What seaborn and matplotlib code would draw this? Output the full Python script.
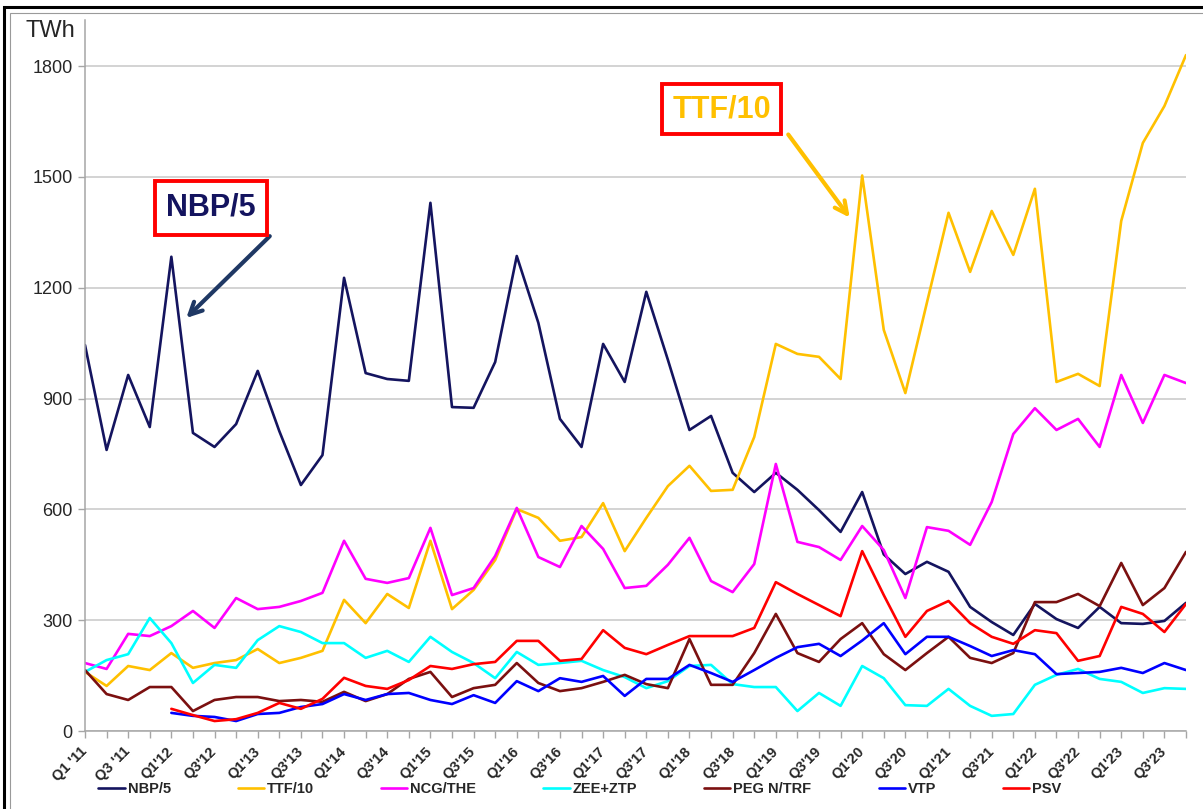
import numpy as np
import pandas as pd
import seaborn as sns
import matplotlib.pyplot as plt
from matplotlib.patches import Rectangle

# quarterly volumes, Q1'11 .. Q4'23 (52 quarters), TWh (scaled series as labelled)
nbp = [1045, 761, 964, 823, 1284, 807, 769, 831, 975, 812, 666, 747,
       1227, 969, 953, 948, 1430, 877, 875, 999, 1286, 1105, 845, 769,
       1048, 945, 1189, 1005, 815, 853, 699, 647, 699, 653, 598, 539,
       647, 478, 425, 458, 431, 336, 295, 260, 344, 303, 279, 336,
       292, 290, 298, 347]
ttf = [160, 122, 176, 165, 211, 171, 184, 192, 222, 184, 198, 217,
       355, 292, 371, 333, 515, 330, 382, 463, 601, 577, 515, 525,
       617, 487, 577, 663, 718, 650, 653, 796, 1048, 1021, 1013, 953,
       1504, 1086, 915, 1160, 1403, 1243, 1408, 1289, 1468, 945, 967, 934,
       1381, 1592, 1692, 1830]
ncg = [184, 168, 263, 257, 284, 325, 279, 360, 330, 336, 352, 374,
       515, 412, 401, 414, 550, 368, 387, 474, 604, 471, 444, 555,
       493, 387, 393, 450, 523, 406, 376, 452, 723, 512, 498, 463,
       555, 490, 360, 552, 542, 504, 620, 804, 874, 815, 845, 769,
       964, 834, 964, 942]
zee = [160, 192, 208, 306, 238, 130, 179, 171, 246, 284, 268, 238,
       238, 198, 217, 187, 255, 214, 184, 143, 214, 179, 184, 190,
       165, 146, 116, 135, 176, 179, 127, 119, 119, 54, 103, 68,
       176, 143, 70, 68, 114, 68, 41, 46, 125, 152, 168, 141,
       133, 103, 116, 114]
peg = [165, 100, 84, 119, 119, 54, 84, 92, 92, 81, 84, 79,
       106, 81, 100, 141, 160, 92, 116, 125, 184, 130, 108, 116,
       133, 152, 127, 116, 249, 125, 125, 211, 317, 211, 187, 249,
       292, 208, 165, 211, 255, 198, 184, 211, 349, 349, 371, 338,
       455, 341, 387, 485]
vtp = [np.nan, np.nan, np.nan, np.nan, 49, 41, 38, 27, 46, 49, 65, 73,
       100, 84, 100, 103, 84, 73, 97, 76, 135, 108, 143, 133,
       149, 95, 141, 141, 179, 157, 133, 165, 198, 227, 236, 203,
       245, 292, 208, 255, 255, 230, 203, 219, 208, 154, 157, 160,
       171, 157, 184, 165]
psv = [np.nan, np.nan, np.nan, np.nan, 60, 43, 27, 32, 49, 76, 60, 87,
       144, 122, 114, 138, 176, 168, 181, 187, 244, 244, 190, 195,
       273, 225, 208, 233, 257, 257, 257, 279, 403, 371, 341, 311,
       487, 368, 255, 325, 352, 292, 255, 236, 273, 265, 190, 203,
       336, 317, 268, 344]

series_names = ["NBP/5", "TTF/10", "NCG/THE", "ZEE+ZTP", "PEG N/TRF", "VTP", "PSV"]
series_colors = ["#14145f", "#ffc000", "#ff00ff", "#00ffff", "#7b1010", "#0000ff", "#ff0000"]

tick_labels = ["Q1 '11", "Q3 '11", "Q1'12", "Q3'12", "Q1'13", "Q3'13", "Q1'14", "Q3'14",
               "Q1'15", "Q3'15", "Q1'16", "Q3'16", "Q1'17", "Q3'17", "Q1'18", "Q3'18",
               "Q1'19", "Q3'19", "Q1'20", "Q3'20", "Q1'21", "Q3'21", "Q1'22", "Q3'22",
               "Q1'23", "Q3'23"]

quarter = np.arange(len(nbp))
df = pd.DataFrame({"quarter": quarter})
for name, vals in zip(series_names, [nbp, ttf, ncg, zee, peg, vtp, psv]):
    df[name] = vals
long_df = df.melt(id_vars="quarter", var_name="hub", value_name="TWh").dropna()

sns.set_theme(style="white")
plt.rcParams['font.family'] = ['Liberation Sans', 'DejaVu Sans']

fig = plt.figure(figsize=(12.03, 8.09), dpi=100)
ax = fig.add_axes([85 / 1203, 78 / 809, 1101 / 1203, 711 / 809])

sns.lineplot(data=long_df, x="quarter", y="TWh", hue="hub",
             hue_order=series_names, palette=series_colors, linewidth=1.9,
             sort=False, legend=True, ax=ax)

ax.set_xlim(0, len(nbp) - 1)
ax.set_ylim(0, 1925)
ax.set_yticks(np.arange(0, 1801, 300))
ax.set_yticklabels([str(v) for v in range(0, 1801, 300)], fontsize=13)
ax.set_xticks(quarter)
full_labels = []
for i in quarter:
    full_labels.append(tick_labels[i // 2] if i % 2 == 0 else "")
ax.set_xticklabels(full_labels, rotation=45, ha="right", va="center",
                   rotation_mode="anchor", fontsize=10.5, fontweight="bold")
ax.set_xlabel("")
ax.set_ylabel("")
ax.grid(axis="y", color="#c8c8c8", linewidth=1.1)
ax.set_axisbelow(True)
for side in ["top", "right"]:
    ax.spines[side].set_visible(False)
for side in ["left", "bottom"]:
    ax.spines[side].set_color("#a6a6a6")
    ax.spines[side].set_linewidth(1.1)
ax.tick_params(axis="both", which="both", direction="out", length=5, width=1,
               color="#a6a6a6", bottom=True, left=True)
ax.tick_params(axis="x", pad=8)
ax.tick_params(axis="y", pad=4)

# legend along the bottom
handles, labels = ax.get_legend_handles_labels()
ax.get_legend().remove()
fig.legend(handles, labels, loc="center", bbox_to_anchor=(580 / 1203, 1 - 789 / 809),
           ncol=7, frameon=False, handlelength=1.8, handletextpad=0.2,
           columnspacing=4.6, prop={"weight": "bold", "size": 10.5})

fig.text(25 / 1203, 1 - 31 / 809, "TWh", fontsize=17, va="center", ha="left")

# callouts
ax.annotate("", xy=(4.6, 1113), xytext=(8.65, 1345),
            arrowprops=dict(arrowstyle="->", color="#1f3864", lw=3, mutation_scale=22))
ax.text(5.84, 1416, "NBP/5", fontsize=22, fontweight="bold", color="#14145f",
        ha="center", va="center",
        bbox=dict(boxstyle="square,pad=0.38", fc="white", ec="#ff0000", lw=2.8))
ax.annotate("", xy=(35.5, 1384), xytext=(32.5, 1621),
            arrowprops=dict(arrowstyle="->", color="#ffc000", lw=3, mutation_scale=22))
ax.text(29.5, 1684, "TTF/10", fontsize=22, fontweight="bold", color="#ffc000",
        ha="center", va="center",
        bbox=dict(boxstyle="square,pad=0.33", fc="white", ec="#ff0000", lw=2.8))

# outer frame of the figure panel
fig.patches.append(Rectangle((4 / 1203, -0.05), 1.1, 1 - 7 / 809 + 0.05,
                             transform=fig.transFigure, fill=False,
                             ec="black", lw=2.2))
fig.patches.append(Rectangle((10 / 1203, -0.05), 1.1, 1 - 13 / 809 + 0.05,
                             transform=fig.transFigure, fill=False,
                             ec="#9a9a9a", lw=0.8))

fig.savefig("out.png", dpi=100)
plt.close(fig)
